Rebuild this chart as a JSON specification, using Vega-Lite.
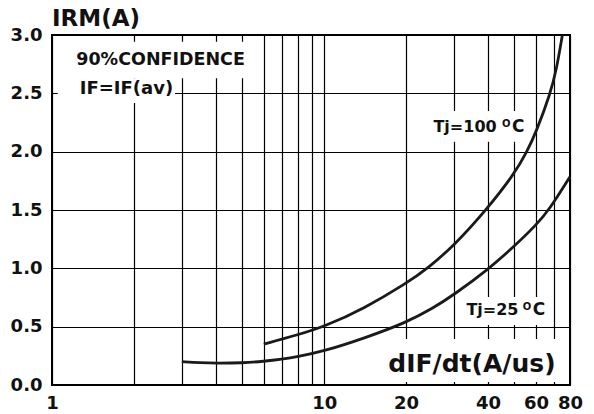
{
  "$schema": "https://vega.github.io/schema/vega-lite/v6.json",
  "width": 518,
  "height": 350,
  "autosize": {"type": "none"},
  "padding": {"left": 52, "top": 35, "right": 24, "bottom": 29},
  "background": "white",
  "title": {"text": "IRM(A)", "anchor": "start", "frame": "group", "font": "DejaVu Sans", "fontWeight": "bold", "fontSize": 23, "offset": 2, "dy": 7, "color": "#111"},
  "config": {
    "view": {"stroke": "#000", "strokeWidth": 2, "fill": "white"},
    "axis": {"grid": true, "gridColor": "#000", "gridWidth": 1.2, "gridOpacity": 1, "domain": false, "ticks": false, "labelFont": "DejaVu Sans", "labelFontWeight": "bold", "labelFontSize": 18, "labelColor": "#111", "title": null, "labelOverlap": false, "labelBound": false, "labelFlush": false}
  },
  "datasets": {
    "curves": [
      {"dIFdt": 3, "IRM": 0.2, "Tj": "25"},
      {"dIFdt": 3.5, "IRM": 0.19, "Tj": "25"},
      {"dIFdt": 4, "IRM": 0.186, "Tj": "25"},
      {"dIFdt": 5, "IRM": 0.189, "Tj": "25"},
      {"dIFdt": 6, "IRM": 0.203, "Tj": "25"},
      {"dIFdt": 7, "IRM": 0.221, "Tj": "25"},
      {"dIFdt": 8, "IRM": 0.243, "Tj": "25"},
      {"dIFdt": 10, "IRM": 0.29, "Tj": "25"},
      {"dIFdt": 14, "IRM": 0.4, "Tj": "25"},
      {"dIFdt": 20, "IRM": 0.535, "Tj": "25"},
      {"dIFdt": 25, "IRM": 0.655, "Tj": "25"},
      {"dIFdt": 30, "IRM": 0.775, "Tj": "25"},
      {"dIFdt": 40, "IRM": 0.99, "Tj": "25"},
      {"dIFdt": 50, "IRM": 1.19, "Tj": "25"},
      {"dIFdt": 60, "IRM": 1.37, "Tj": "25"},
      {"dIFdt": 67, "IRM": 1.5, "Tj": "25"},
      {"dIFdt": 80, "IRM": 1.786, "Tj": "25"},
      {"dIFdt": 6, "IRM": 0.35, "Tj": "100"},
      {"dIFdt": 8, "IRM": 0.43, "Tj": "100"},
      {"dIFdt": 10, "IRM": 0.5, "Tj": "100"},
      {"dIFdt": 14, "IRM": 0.655, "Tj": "100"},
      {"dIFdt": 20, "IRM": 0.87, "Tj": "100"},
      {"dIFdt": 24, "IRM": 1.0, "Tj": "100"},
      {"dIFdt": 30, "IRM": 1.195, "Tj": "100"},
      {"dIFdt": 39.4, "IRM": 1.5, "Tj": "100"},
      {"dIFdt": 50, "IRM": 1.81, "Tj": "100"},
      {"dIFdt": 55.6, "IRM": 2.0, "Tj": "100"},
      {"dIFdt": 60, "IRM": 2.165, "Tj": "100"},
      {"dIFdt": 67.8, "IRM": 2.5, "Tj": "100"},
      {"dIFdt": 71.3, "IRM": 2.7, "Tj": "100"},
      {"dIFdt": 75, "IRM": 3.0, "Tj": "100"}
    ],
    "boxes": [
      {"dIFdt": 1.05, "dIFdt2": 5.35, "IRM": 2.629, "IRM2": 2.943},
      {"dIFdt": 1.05, "dIFdt2": 2.83, "IRM": 2.417, "IRM2": 2.629},
      {"dIFdt": 24.5, "dIFdt2": 57.2, "IRM": 2.085, "IRM2": 2.349},
      {"dIFdt": 31.1, "dIFdt2": 67.8, "IRM": 0.514, "IRM2": 0.754},
      {"dIFdt": 17.1, "dIFdt2": 79, "IRM": 0.026, "IRM2": 0.394}
    ],
    "tjlabels": [
      {"dIFdt": 25.2, "dIFdt_end": 54.4, "IRM": 2.171, "label": "Tj=100", "sup": "O", "unit": "C"},
      {"dIFdt": 33.3, "dIFdt_end": 64.9, "IRM": 0.6, "label": "Tj=25", "sup": "O", "unit": "C"}
    ]
  },
  "encoding": {
    "x": {"field": "dIFdt", "type": "quantitative", "scale": {"type": "log", "domain": [1, 80], "nice": false},
      "axis": {"values": [1, 2, 3, 4, 5, 6, 7, 8, 9, 10, 20, 30, 40, 50, 60, 70, 80], "labelExpr": "indexof([1, 10, 20, 40, 60, 80], datum.value) >= 0 ? datum.value : ''", "labelPadding": 9}},
    "y": {"field": "IRM", "type": "quantitative", "scale": {"domain": [0, 3], "nice": false, "zero": false},
      "axis": {"values": [0, 0.5, 1, 1.5, 2, 2.5, 3], "format": ".1f", "labelPadding": 10}}
  },
  "layer": [
    {
      "data": {"name": "boxes"},
      "mark": {"type": "rect", "fill": "white", "stroke": null},
      "encoding": {"x2": {"field": "dIFdt2"}, "y2": {"field": "IRM2"}}
    },
    {
      "data": {"name": "curves"},
      "mark": {"type": "line", "color": "#1a1a1a", "strokeWidth": 2.8, "interpolate": "basis"},
      "encoding": {"detail": {"field": "Tj", "type": "nominal"}}
    },
    {
      "data": {"values": [{"dIFdt": 2.506, "IRM": 2.743, "label": "90%CONFIDENCE"}]},
      "mark": {"type": "text", "font": "DejaVu Sans", "fontWeight": "bold", "fontSize": 17.5, "align": "center", "baseline": "alphabetic", "color": "#111"},
      "encoding": {"text": {"field": "label"}}
    },
    {
      "data": {"values": [{"dIFdt": 1.878, "IRM": 2.491, "label": "IF=IF(av)"}]},
      "mark": {"type": "text", "font": "DejaVu Sans", "fontWeight": "bold", "fontSize": 18, "align": "center", "baseline": "alphabetic", "color": "#111"},
      "encoding": {"text": {"field": "label"}}
    },
    {
      "data": {"values": [{"dIFdt": 17.2, "IRM": 0.111, "label": "dIF/dt(A/us)"}]},
      "mark": {"type": "text", "font": "DejaVu Sans", "fontWeight": "bold", "fontSize": 25, "align": "left", "baseline": "alphabetic", "color": "#111"},
      "encoding": {"text": {"field": "label"}}
    },
    {
      "data": {"name": "tjlabels"},
      "mark": {"type": "text", "font": "DejaVu Sans", "fontWeight": "bold", "fontSize": 16, "align": "left", "baseline": "alphabetic", "color": "#111"},
      "encoding": {"text": {"field": "label"}}
    },
    {
      "data": {"name": "tjlabels"},
      "mark": {"type": "text", "font": "DejaVu Sans", "fontWeight": "bold", "fontSize": 17, "align": "right", "baseline": "alphabetic", "color": "#111"},
      "encoding": {"x": {"field": "dIFdt_end", "type": "quantitative"}, "text": {"field": "unit"}}
    },
    {
      "data": {"name": "tjlabels"},
      "mark": {"type": "text", "font": "DejaVu Sans", "fontWeight": "bold", "fontSize": 10, "align": "right", "baseline": "alphabetic", "dx": -14, "dy": -5, "color": "#111"},
      "encoding": {"x": {"field": "dIFdt_end", "type": "quantitative"}, "text": {"field": "sup"}}
    }
  ]
}
